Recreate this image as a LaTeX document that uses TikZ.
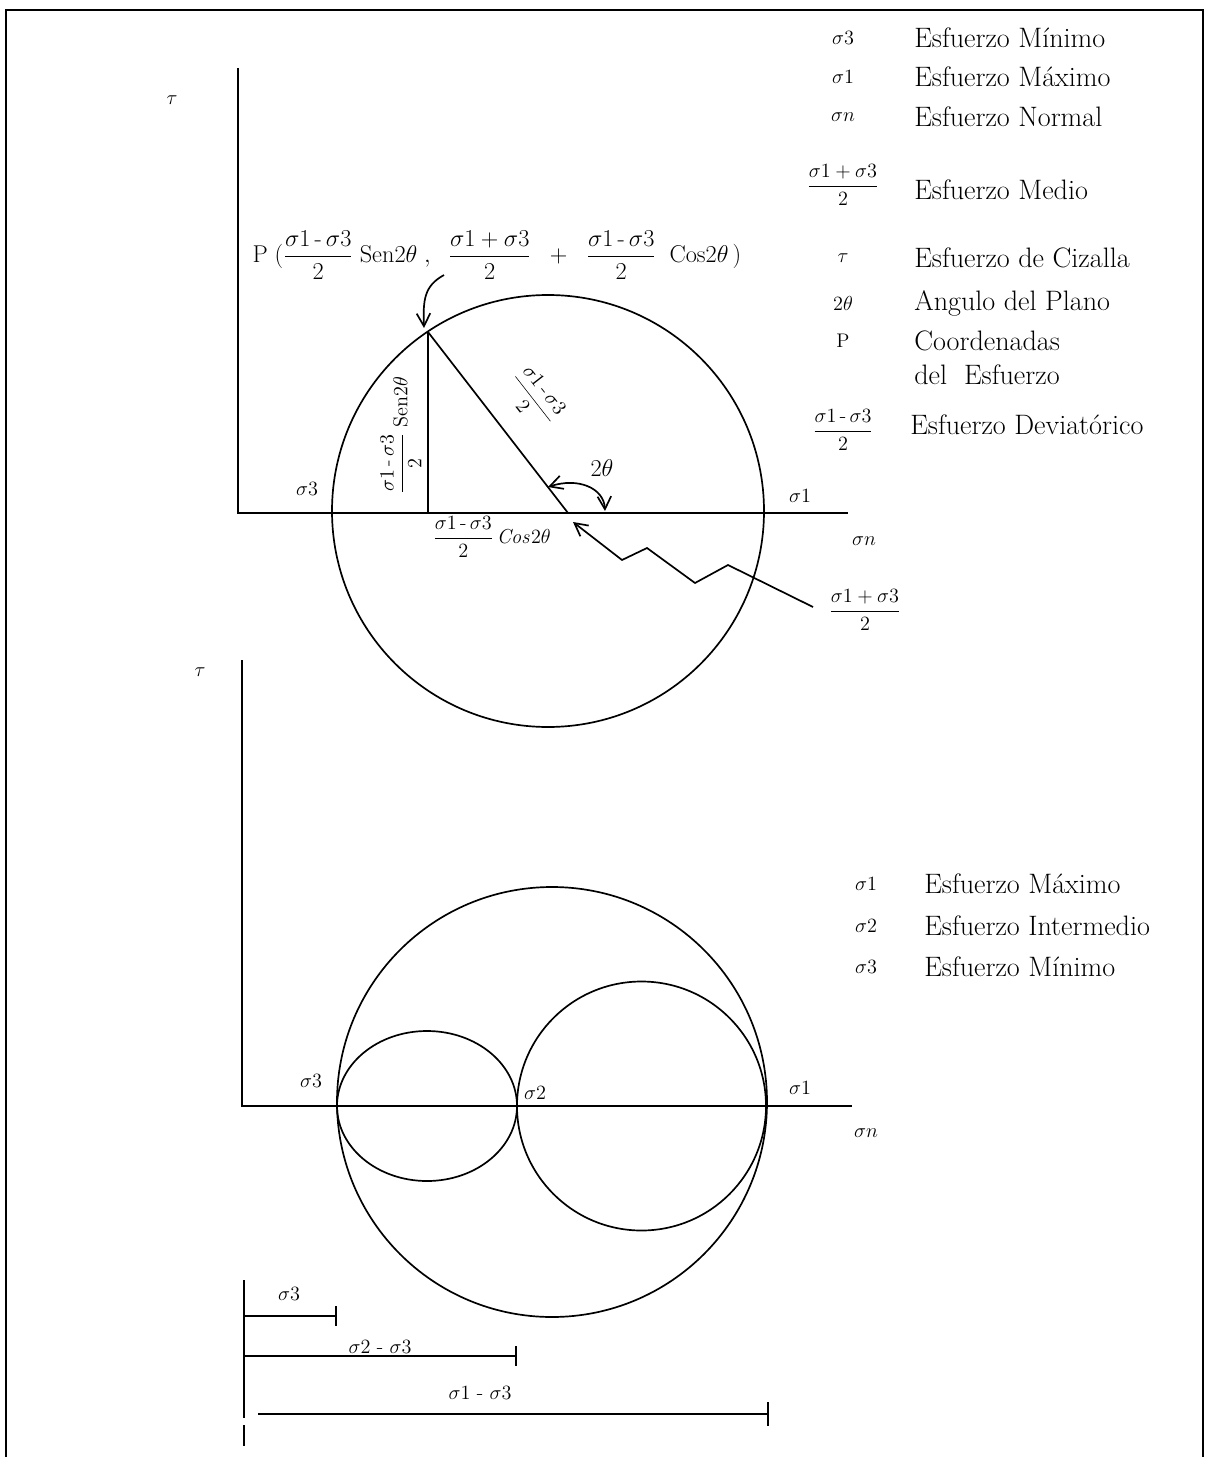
\documentclass[tikz,border=0pt]{standalone}
\usetikzlibrary{arrows.meta, calc}

\begin{document}
\begin{tikzpicture}[x=0.025cm, y=-0.025cm, >={Straight Barb[length=3.2mm, width=3.4mm]}, line width=1.2pt,
  every node/.style={inner sep=1pt},
  sym/.style={font=\fontsize{14}{16}\selectfont},
  lbl/.style={font=\fontsize{15}{17}\selectfont},
  leg/.style={font=\fontsize{20}{24}\selectfont, anchor=west}]
  \useasboundingbox (0,0) rectangle (1209,1457);
  % frame
  \draw (6,1457) -- (6,10) -- (1203,10) -- (1203,1457);

  % upper diagram
  \coordinate (oA) at (238,513);
  \coordinate (tauEndA) at (238,68);
  \coordinate (snEndA) at (848,513);
  \coordinate (P) at (428,332);
  \coordinate (Pfoot) at (428,513);
  \coordinate (ctrA) at (568,513);
  \draw (tauEndA) -- (oA) -- (snEndA);
  \draw (548,511) circle [radius=216];
  \draw (P) -- (Pfoot);
  \draw (P) -- (ctrA);
  \node[sym] (tauA) at (172,100) {$\tau$};
  \node[lbl] (s3A) at (307,489) {$\sigma3$};
  \node[lbl] (s1A) at (800,496) {$\sigma1$};
  \node[lbl] (snA) at (864,541) {$\sigma n$};
  \node[font=\fontsize{17}{19}\selectfont] (coordP) at (497,255) {$\displaystyle \mathrm{P}\;(\frac{\sigma1\,\mbox{-}\,\sigma3}{2}\;\mathrm{Sen}2\theta\;,\;\;\frac{\sigma1+\sigma3}{2}\;\;+\;\;\frac{\sigma1\,\mbox{-}\,\sigma3}{2}\;\;\mathrm{Cos}2\theta\,)$};
  \coordinate (pStart) at (444,275);
  \draw[->] (pStart) .. controls (424,286) and (423,300) .. ($(P)+(-4,-4)$);
  \node[lbl, rotate=90] (senLbl) at (401,435) {$\displaystyle \frac{\sigma1\,\mbox{-}\,\sigma3}{2}\;\mathrm{Sen}2\theta$};
  \node[lbl, rotate=-52] (devLbl) at (534,398) {$\displaystyle \frac{\sigma1\,\mbox{-}\,\sigma3}{2}$};
  \node[lbl] (cosLbl) at (492,537) {$\displaystyle \frac{\sigma1\,\mbox{-}\,\sigma3}{2}\,\mathit{Cos}2\theta$};
  % angle 2theta
  \coordinate (angA) at (548,487);
  \coordinate (angB) at (605,511);
  \draw[<->] (angA) .. controls (578,477) and (604,488) .. (angB);
  \node[font=\fontsize{17}{19}\selectfont] (twoTh) at (602,468) {$2\theta$};
  % zigzag pointer to the centre
  \node[lbl] (medio) at (865,610) {$\displaystyle \frac{\sigma1+\sigma3}{2}$};
  \coordinate (zz0) at (813,607);
  \coordinate (zzTip) at (573,522);
  \draw[->] (zz0) -- (728,565) -- (695,583) -- (647,548) -- (622,560) -- (zzTip);

  % legend, upper
  \node[sym] (l1s) at (843,38) {$\sigma3$};
  \node[leg] (l1t) at (912,38) {Esfuerzo Mínimo};
  \node[sym] (l2s) at (843,77) {$\sigma1$};
  \node[leg] (l2t) at (912,77) {Esfuerzo Máximo};
  \node[sym] (l3s) at (843,117) {$\sigma n$};
  \node[leg] (l3t) at (912,117) {Esfuerzo Normal};
  \node[lbl] (l4s) at (843,185) {$\displaystyle \frac{\sigma1+\sigma3}{2}$};
  \node[leg] (l4t) at (912,190) {Esfuerzo Medio};
  \node[sym] (l5s) at (843,258) {$\tau$};
  \node[leg] (l5t) at (912,258) {Esfuerzo de Cizalla};
  \node[sym] (l6s) at (843,303) {$2\theta$};
  \node[leg] (l6t) at (912,303) {Angulo del Plano};
  \node[sym] (l7s) at (843,341) {P};
  \node[leg] (l7t) at (912,341) {Coordenadas};
  \node[leg] (l7u) at (912,375) {del\ \ Esfuerzo};
  \node[lbl] (l8s) at (843,430) {$\displaystyle \frac{\sigma1\,\mbox{-}\,\sigma3}{2}$};
  \node[leg] (l8t) at (908,425) {Esfuerzo Deviatórico};

  % lower diagram
  \coordinate (oB) at (242,1106);
  \coordinate (tauEndB) at (242,660);
  \coordinate (snEndB) at (852,1106);
  \draw (tauEndB) -- (oB) -- (snEndB);
  \draw (552,1102) circle [radius=215];
  \draw (427,1106) ellipse [x radius=90, y radius=75];
  \draw (641.5,1106) circle [radius=124.5];
  \node[sym] (tauB) at (200,672) {$\tau$};
  \node[lbl] (s3B) at (311,1081) {$\sigma3$};
  \node[lbl] (s2B) at (535,1093) {$\sigma2$};
  \node[lbl] (s1B) at (800,1088) {$\sigma1$};
  \node[lbl] (snB) at (866,1133) {$\sigma n$};

  % legend, lower
  \node[sym] (m1s) at (866,884) {$\sigma1$};
  \node[leg] (m1t) at (922,884) {Esfuerzo Máximo};
  \node[sym] (m2s) at (866,926) {$\sigma2$};
  \node[leg] (m2t) at (922,926) {Esfuerzo Intermedio};
  \node[sym] (m3s) at (866,967) {$\sigma3$};
  \node[leg] (m3t) at (922,967) {Esfuerzo Mínimo};

  % spans
  \draw (244,1280) -- (244,1418);
  \draw (244,1425) -- (244,1446);
  \coordinate (b1a) at (244,1316);
  \coordinate (b1b) at (337,1316);
  \coordinate (b2a) at (244,1356);
  \coordinate (b2b) at (517,1356);
  \coordinate (b3a) at (258,1414);
  \coordinate (b3b) at (769,1414);
  \draw[-{Bar[width=5mm]}] (b1a) -- (b1b);
  \draw[-{Bar[width=5mm]}] (b2a) -- (b2b);
  \draw[-{Bar[width=6mm]}] (b3a) -- (b3b);
  \node[lbl] (b1l) at (289,1294) {$\sigma3$};
  \node[lbl] (b2l) at (380,1347) {$\sigma2$ - $\sigma3$};
  \node[lbl] (b3l) at (480,1393) {$\sigma1$ - $\sigma3$};
\end{tikzpicture}
\end{document}
